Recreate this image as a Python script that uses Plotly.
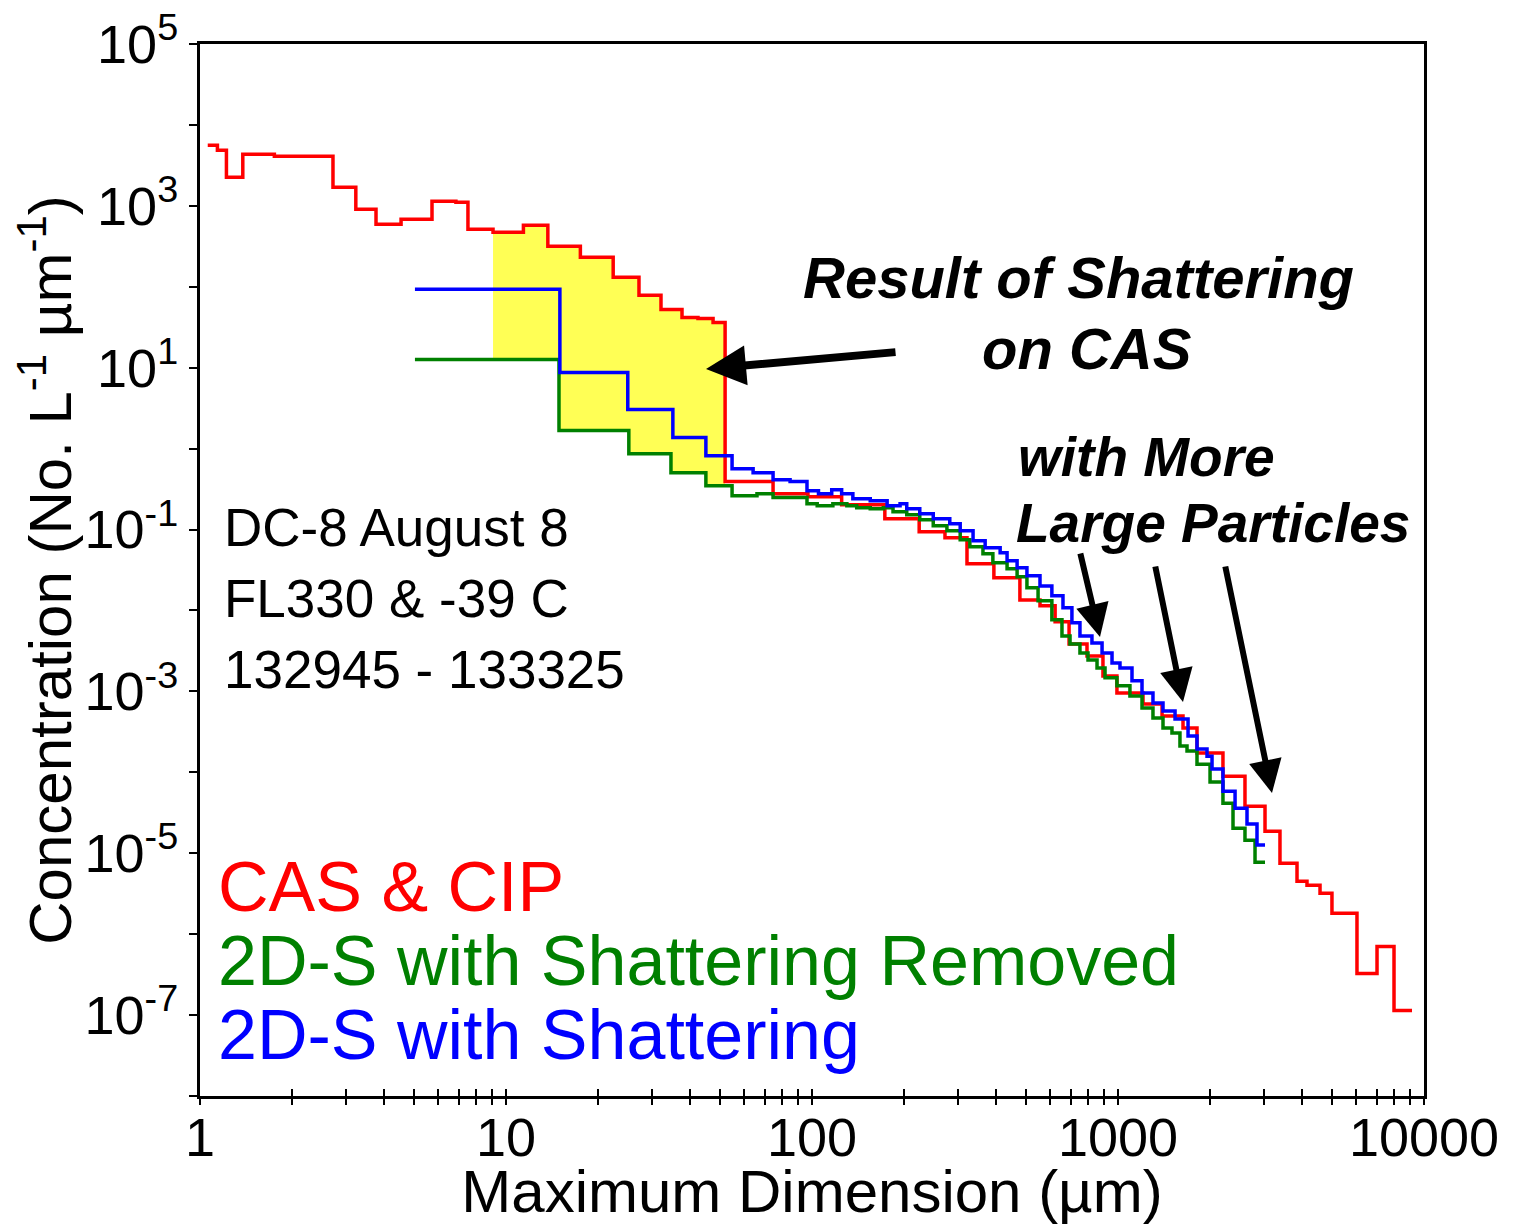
import plotly.graph_objects as go

# ---------------- data ----------------
# CAS & CIP: left bin edges (um) and concentration (No. L^-1 um^-1)
cas_edges = [1.06, 1.14, 1.22, 1.38, 1.75, 2.72, 3.23, 3.76, 4.54, 5.73, 6.86, 7.51,
             9.07, 11.4, 13.7, 17.5, 22.4, 27.2, 32.1, 37.6, 42.4, 47.5, 52.0, 74.6,
             97.0, 125, 173, 224, 272, 321, 393, 478, 556, 623, 692, 792, 893, 992,
             1207, 1393, 1631, 1812, 2203, 2600, 3023, 3383, 3846, 4146, 4573, 5003,
             6039, 7022, 7980]
cas_conc = [5620, 4880, 2260, 4350, 4110, 1700, 908, 592, 682, 1140, 1110, 513,
            471, 575, 316, 231, 131, 78.3, 52.5, 41.8, 40.6, 36.3, 0.391, 0.277,
            0.255, 0.203, 0.136, 0.094, 0.0792, 0.0378, 0.0253, 0.0135, 0.0114, 0.00723,
            0.00386, 0.00274, 0.00155, 0.000955, 0.000698, 0.000497, 0.000352, 0.000173,
            8.97e-5, 3.82e-5, 1.87e-5, 7.52e-6, 4.50e-6, 4.02e-6, 3.20e-6, 1.81e-6,
            3.27e-7, 7.06e-7, 1.14e-7]
cas_end = 9137

# 2D-S with Shattering
s_edges = [5.04, 15.0, 25.0, 35.1, 45.0, 54.8, 64.2, 74.6, 84.8, 96.3, 105, 116, 125,
           136, 155, 176, 194, 204, 225, 249, 282, 305, 336, 368, 412, 434, 468, 504,
           556, 608, 661, 707, 751, 822, 887, 956, 1015, 1111, 1198, 1301, 1403, 1536,
           1694, 1812, 1954, 2029, 2203, 2413, 2640, 2846]
s_conc = [92.9, 8.73, 3.04, 1.37, 0.819, 0.565, 0.505, 0.413, 0.391, 0.302, 0.277, 0.311,
          0.277, 0.240, 0.227, 0.197, 0.209, 0.181, 0.157, 0.136, 0.118, 0.0966, 0.0727,
          0.0595, 0.0516, 0.0411, 0.0337, 0.0268, 0.0201, 0.0152, 0.0108, 0.00703, 0.00485,
          0.00397, 0.00299, 0.00225, 0.00195, 0.00135, 0.000955, 0.000718, 0.000571,
          0.000455, 0.000281, 0.000194, 0.000158, 0.000110, 5.85e-5, 3.60e-5, 2.29e-5,
          1.26e-5]
s_end = 3023

# 2D-S with Shattering Removed
r_edges = [5.04, 14.9, 25.2, 34.6, 45.0, 54.8, 66.1, 74.6, 96.3, 104, 117, 130, 140, 155,
           171, 184, 204, 225, 249, 276, 305, 328, 362, 390, 434, 468, 504, 548, 608, 656,
           697, 751, 798, 854, 907, 992, 1094, 1198, 1301, 1403, 1501, 1594, 1681, 1812,
           1999, 2203, 2376, 2600, 2804]
r_conc = [12.6, 1.67, 0.867, 0.505, 0.348, 0.262, 0.277, 0.248, 0.209, 0.197, 0.209,
          0.197, 0.186, 0.181, 0.186, 0.166, 0.152, 0.132, 0.111, 0.0966, 0.0748, 0.0612,
          0.0501, 0.0388, 0.0327, 0.0261, 0.0191, 0.0132, 0.00766, 0.00485, 0.00386,
          0.00299, 0.00245, 0.00195, 0.00147, 0.00117, 0.000877, 0.000624, 0.000469,
          0.000352, 0.000305, 0.000211, 0.000183, 0.000126, 7.57e-5, 4.16e-5, 2.04e-5,
          1.45e-5, 7.74e-6]
r_end = 3023

shatter_range = [9.07, 52.0]   # size range shaded yellow (CAS vs 2D-S removed)

x_tickvals = [1, 2, 3, 4, 5, 6, 7, 8, 9, 10, 20, 30, 40, 50, 60, 70, 80, 90,
              100, 200, 300, 400, 500, 600, 700, 800, 900, 1000, 2000, 3000, 4000,
              5000, 6000, 7000, 8000, 9000, 10000]
x_major = {1: "1", 10: "10", 100: "100", 1000: "1000", 10000: "10000"}
y_exponents = [5, 4, 3, 2, 1, 0, -1, -2, -3, -4, -5, -6, -7, -8]
y_labeled = [5, 3, 1, -1, -3, -5, -7]

info_lines = ["DC-8 August 8", "FL330 &amp; -39 C", "132945 - 133325"]
legend_items = [("CAS &amp; CIP", "#ff0000"),
                ("2D-S with Shattering Removed", "#008000"),
                ("2D-S with Shattering", "#0000ff")]

# ---------------- helpers ----------------
def step_path(edges, vals, end, lo=None, hi=None):
    xs, ys = [], []
    rights = list(edges[1:]) + [end]
    for e0, e1, v in zip(edges, rights, vals):
        a, b = e0, e1
        if lo is not None:
            a = max(a, lo)
        if hi is not None:
            b = min(b, hi)
        if b <= a:
            continue
        xs += [a, b]
        ys += [v, v]
    return xs, ys

# the page body has an 8 px margin, so the figure is made 8 px smaller
BODY = 8
W, H = 1513 - BODY, 1225 - BODY
PL, PR, PT, PB = 200, 1424, 44, 1096          # plot area in screen pixels
ML, MT = PL - BODY, PT - BODY
MR, MB = 1513 - PR, 1225 - PB
PW, PH = PR - PL, PB - PT

def px(xp):
    return (xp - PL) / PW

def py(yp):
    return (PB - yp) / PH

AX_FONT = "Liberation Sans, Arial"
TXT_FONT = "Liberation Sans, Arial"

fig = go.Figure()

# yellow shaded region between CAS and 2D-S (shattering removed)
ux, uy = step_path(cas_edges, cas_conc, cas_end, *shatter_range)
lx, ly = step_path(r_edges, r_conc, r_end, *shatter_range)
fig.add_trace(go.Scatter(x=ux + lx[::-1], y=uy + ly[::-1], fill="toself",
                         fillcolor="#ffff55", line=dict(width=0), mode="lines",
                         hoverinfo="skip", showlegend=False))

for edges, vals, end, color in [(cas_edges, cas_conc, cas_end, "#ff0000"),
                                (r_edges, r_conc, r_end, "#008000"),
                                (s_edges, s_conc, s_end, "#0000ff")]:
    fig.add_trace(go.Scatter(x=list(edges) + [end], y=list(vals) + [vals[-1]],
                             mode="lines", line=dict(color=color, width=3.5, shape="hv"),
                             showlegend=False))

# dummy trace for the overlaid tick axis (ticks crossing the x axis line)
fig.add_trace(go.Scatter(x=[1], y=[1e-9], xaxis="x2", mode="markers",
                         marker=dict(opacity=0), showlegend=False, hoverinfo="skip"))

fig.update_layout(
    width=W, height=H,
    margin=dict(l=ML, r=MR, t=MT, b=MB),
    paper_bgcolor="white", plot_bgcolor="white",
    xaxis=dict(type="log", range=[0, 4], showgrid=False, zeroline=False, automargin=False,
               showline=True, linecolor="black", linewidth=3, mirror=True,
               ticks="outside", ticklen=6, tickwidth=2, tickcolor="black",
               ticklabelstandoff=-14, ticklabeloverflow="allow",
               tickvals=x_tickvals,
               ticktext=[x_major.get(v, "") for v in x_tickvals],
               tickfont=dict(family=AX_FONT, size=54, color="black"),
               title=dict(text="Maximum Dimension (µm)", standoff=2,
                          font=dict(family=AX_FONT, size=60, color="black"))),
    xaxis2=dict(type="log", range=[0, 4], overlaying="x", anchor="y", side="bottom",
                showgrid=False, zeroline=False, showline=False, automargin=False,
                ticks="inside", ticklen=7, tickwidth=2, tickcolor="black",
                tickvals=x_tickvals, showticklabels=False),
    yaxis=dict(type="log", range=[-8, 5], showgrid=False, zeroline=False, automargin=False,
               showline=True, linecolor="black", linewidth=3, mirror=True,
               ticks="outside", ticklen=8, tickwidth=2, tickcolor="black",
               ticklabeloverflow="allow",
               tickvals=[10.0 ** e for e in y_exponents],
               ticktext=[("10<sup>%d</sup>" % e) if e in y_labeled else "" for e in y_exponents],
               tickfont=dict(family=AX_FONT, size=54, color="black"),
               title=dict(text="Concentration (No. L<sup>-1</sup> µm<sup>-1</sup>)", standoff=4,
                          font=dict(family=AX_FONT, size=60, color="black"))),
)

ann = []
# info text
for i, t in enumerate(info_lines):
    ann.append(dict(x=px(222), y=py(527 + 71 * i), xref="paper", yref="paper",
                    text=t, showarrow=False, xanchor="left", yanchor="middle",
                    font=dict(family=TXT_FONT, size=53, color="black")))
# legend-like coloured labels
for i, (t, c) in enumerate(legend_items):
    ann.append(dict(x=px(216), y=py(887 + 74 * i), xref="paper", yref="paper",
                    text=t, showarrow=False, xanchor="left", yanchor="middle",
                    font=dict(family=TXT_FONT, size=70, color=c)))
# callouts
ann.append(dict(x=px(1078), y=py(277), xref="paper", yref="paper",
                text="<b><i>Result of Shattering</i></b>", showarrow=False,
                xanchor="center", yanchor="middle",
                font=dict(family=TXT_FONT, size=58, color="black")))
ann.append(dict(x=px(1087), y=py(348), xref="paper", yref="paper",
                text="<b><i>on CAS</i></b>", showarrow=False,
                xanchor="center", yanchor="middle",
                font=dict(family=TXT_FONT, size=58, color="black")))
ann.append(dict(x=px(1016), y=py(457), xref="paper", yref="paper",
                text="<b><i>with More</i></b>", showarrow=False,
                xanchor="left", yanchor="middle",
                font=dict(family=TXT_FONT, size=55, color="black")))
ann.append(dict(x=px(1014), y=py(523), xref="paper", yref="paper",
                text="<b><i>Large Particles</i></b>", showarrow=False,
                xanchor="left", yanchor="middle",
                font=dict(family=TXT_FONT, size=55, color="black")))

# arrows (tip position, tail offset in pixels)
for tip, tail, w, s in [((706, 369), (897, 352), 8, 1.0),
                        ((1100, 637), (1080, 552), 6, 1.1),
                        ((1183, 702), (1155, 565), 6, 1.1),
                        ((1272, 793), (1225, 565), 6, 1.1)]:
    ann.append(dict(x=px(tip[0]), y=py(tip[1]), xref="paper", yref="paper",
                    ax=tail[0] - tip[0], ay=tail[1] - tip[1], text="",
                    showarrow=True, arrowhead=2, arrowsize=s, arrowwidth=w,
                    arrowcolor="black", standoff=0))

fig.update_layout(annotations=ann)
fig.write_html("out.html")
